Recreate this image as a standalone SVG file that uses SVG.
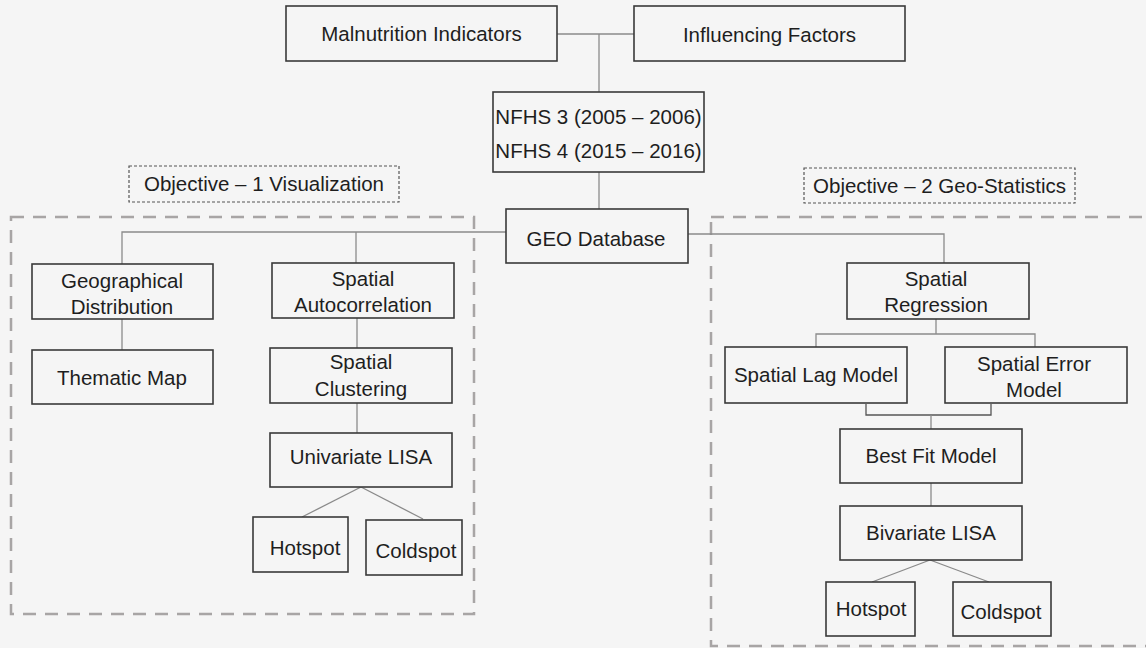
<svg xmlns="http://www.w3.org/2000/svg" width="1146" height="648" viewBox="0 0 1146 648">
<style>
.bg{fill:#f5f5f5}
.box{fill:#f5f5f5;stroke:#3a3a3a;stroke-width:1.6}
.obj{fill:none;stroke:#555;stroke-width:1.2;stroke-dasharray:3,2}
.region{fill:none;stroke:#a8a5a5;stroke-width:2.5;stroke-dasharray:13,9}
.conn line,.conn polyline{fill:none;stroke:#8a8a8a;stroke-width:1.3}
.conn .dark{stroke:#555}
text{font-family:"Liberation Sans",Arial,sans-serif;font-size:20.5px;fill:#1e1e1e;text-anchor:middle}
</style>
<rect class="bg" x="0" y="0" width="1146" height="648"/>

<g id="regions">
<rect class="region" x="11" y="217" width="463" height="397"/>
<rect class="region" x="711" y="217" width="460" height="429"/>
</g>

<g id="obj1"><rect class="obj" x="129" y="166" width="270" height="36"/><text x="264" y="191">Objective – 1 Visualization</text></g>
<g id="obj2"><rect class="obj" x="804" y="168" width="271" height="35"/><text x="939.5" y="193">Objective – 2 Geo-Statistics</text></g>

<g class="conn" id="connectors">
<line x1="557" y1="34" x2="634" y2="34"/>
<line x1="599" y1="34" x2="599" y2="92"/>
<line x1="599" y1="172" x2="599" y2="209"/>
<polyline points="506,232 122,232 122,264"/>
<line x1="356" y1="232" x2="356" y2="263"/>
<line x1="122" y1="319" x2="122" y2="350"/>
<line x1="357" y1="318" x2="357" y2="348"/>
<line x1="357" y1="403" x2="357" y2="433"/>
<line x1="361" y1="487" x2="302" y2="517"/>
<line x1="361" y1="487" x2="423" y2="519"/>
<polyline points="688,234 944,234 944,263"/>
<line x1="936" y1="319" x2="936" y2="334"/>
<polyline points="816,347 816,334 1035,334 1035,347"/>
<polyline class="dark" points="866,404 866,415 991,415 991,404"/>
<line x1="931" y1="415" x2="931" y2="429"/>
<line x1="931" y1="483" x2="931" y2="506"/>
<line x1="930" y1="560" x2="872" y2="582"/>
<line x1="930" y1="560" x2="989" y2="582"/>
</g>

<g id="malnutrition"><rect class="box" x="286" y="6" width="271" height="55"/><text x="421.5" y="41">Malnutrition Indicators</text></g>
<g id="influencing"><rect class="box" x="634" y="6" width="271" height="55"/><text x="769.5" y="42">Influencing Factors</text></g>
<g id="nfhs"><rect class="box" x="493" y="92" width="211" height="80"/><text x="598.5" y="124" font-size="19.3">NFHS 3 (2005 – 2006)</text><text x="598.5" y="158" font-size="19.3">NFHS 4 (2015 – 2016)</text></g>
<g id="geo"><rect class="box" x="506" y="209" width="182" height="54"/><text x="596" y="246">GEO Database</text></g>

<g id="geodist"><rect class="box" x="32" y="264" width="181" height="55"/><text x="122" y="288">Geographical</text><text x="122" y="314">Distribution</text></g>
<g id="thematic"><rect class="box" x="32" y="350" width="181" height="54"/><text x="122" y="385">Thematic Map</text></g>
<g id="autocorr"><rect class="box" x="272" y="263" width="182" height="55"/><text x="363" y="286">Spatial</text><text x="363" y="312">Autocorrelation</text></g>
<g id="clustering"><rect class="box" x="270" y="348" width="182" height="55"/><text x="361" y="369">Spatial</text><text x="361" y="396">Clustering</text></g>
<g id="ulisa"><rect class="box" x="270" y="433" width="182" height="54"/><text x="361" y="464">Univariate LISA</text></g>
<g id="hot1"><rect class="box" x="253" y="517" width="95" height="55"/><text x="305" y="555">Hotspot</text></g>
<g id="cold1"><rect class="box" x="366" y="520" width="96" height="55"/><text x="416" y="558">Coldspot</text></g>

<g id="regression"><rect class="box" x="847" y="263" width="182" height="56"/><text x="936" y="286">Spatial</text><text x="936" y="312">Regression</text></g>
<g id="lag"><rect class="box" x="725" y="347" width="182" height="56"/><text x="816" y="382">Spatial Lag Model</text></g>
<g id="error"><rect class="box" x="945" y="347" width="182" height="56"/><text x="1034" y="371">Spatial Error</text><text x="1034" y="397">Model</text></g>
<g id="bestfit"><rect class="box" x="840" y="429" width="182" height="54"/><text x="931" y="463">Best Fit Model</text></g>
<g id="blisa"><rect class="box" x="840" y="506" width="182" height="54"/><text x="931" y="540">Bivariate LISA</text></g>
<g id="hot2"><rect class="box" x="826" y="582" width="89" height="54"/><text x="871" y="616">Hotspot</text></g>
<g id="cold2"><rect class="box" x="953" y="582" width="98" height="54"/><text x="1001" y="619">Coldspot</text></g>
</svg>
